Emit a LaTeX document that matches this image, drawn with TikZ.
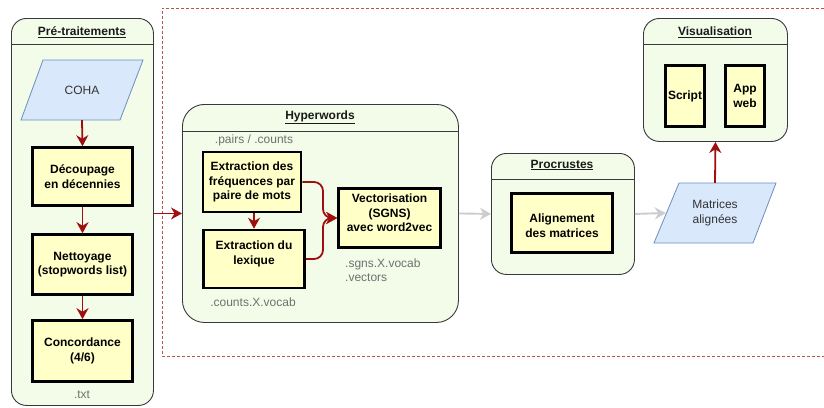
\documentclass[tikz,border=0pt]{standalone}
\usepackage{fontspec}
\setmainfont{Liberation Sans}
\usetikzlibrary{arrows.meta}
\definecolor{lanefill}{HTML}{F3FCE9}
\definecolor{lanedraw}{HTML}{36393D}
\definecolor{procfill}{HTML}{FFFFC8}
\definecolor{iofill}{HTML}{DAE8FC}
\definecolor{iodraw}{HTML}{6C8EBF}
\definecolor{arrred}{HTML}{A00F0F}
\definecolor{arrgray}{HTML}{CCCCCC}
\definecolor{dashc}{HTML}{B85450}
\definecolor{notec}{HTML}{707070}
\definecolor{titlec}{HTML}{1A1A1A}
\definecolor{iotextc}{HTML}{333333}
\begin{document}
\begin{tikzpicture}[x=1pt,y=-1pt,
  lane/.style={draw=lanedraw, fill=lanefill, line width=0.9pt, inner sep=0, anchor=north west},
  hdr/.style={draw=lanedraw, line width=0.9pt},
  proc/.style={draw=black, fill=procfill, line width=2.6pt, inner sep=0, align=center, text=black, font=\bfseries\fontsize{12}{14.5}\selectfont},
  proctext/.style={inner sep=0, align=center, text=black, font=\bfseries\fontsize{12}{14.5}\selectfont},
  io/.style={draw=iodraw, fill=iofill, line width=0.8pt},
  iotext/.style={inner sep=0, align=center, text=iotextc, font=\fontsize{12}{15}\selectfont},
  ttl/.style={inner sep=0, text=titlec, font=\bfseries\fontsize{12}{14}\selectfont},
  note/.style={inner sep=0, text=notec, font=\fontsize{12}{14}\selectfont},
  redarr/.style={draw=arrred, line width=1.8pt, -{Stealth[length=11pt,width=12pt,inset=3.5pt]}},
  grayarr/.style={draw=arrgray, line width=1.9pt, -{Stealth[length=11pt,width=12pt,inset=3.5pt]}},
]
\useasboundingbox (0,0) rectangle (824,407);

% dashed frame
\draw[dashc, line width=0.8pt, dash pattern=on 3pt off 2pt] (824,8) -- (162,8) -- (162,356) -- (824,356);

% ---------- Pre-traitements ----------
\node[lane, rounded corners=15pt, minimum width=142, minimum height=387] (pre) at (11,18) {};
\draw[hdr] (11,44) -- (153,44);
\node[ttl] (pret) at (82,32) {\underline{Pré-traitements}};
\draw[io] (43,60) -- (143,60) -- (120,120) -- (21,120) -- cycle;
\node[iotext, minimum width=100, minimum height=60] (coha) at (82,90) {COHA};
\node[proc, minimum width=100, minimum height=58] (dec) at (82.5,176.5) {Découpage\\en décennies};
\node[proc, minimum width=100, minimum height=60] (net) at (82.5,264.5) {Nettoyage\\(stopwords list)};
\node[proc, minimum width=100, minimum height=61] (conc) at (82.5,351) {Concordance\\(4/6)};
\node[note] (txt) at (82,395) {.txt};
\draw[redarr] (coha.south) -- (dec.north);
\draw[redarr] (dec.south) -- (net.north);
\draw[redarr] (net.south) -- (conc.north);

% ---------- Hyperwords ----------
\node[lane, rounded corners=22pt, minimum width=276, minimum height=218] (hyp) at (182,104) {};
\draw[hdr] (182,131) -- (458,131);
\node[ttl] (hypt) at (320,117) {\underline{Hyperwords}};
\node[note] (pc) at (254,140) {.pairs / .counts};
\node[proc, minimum width=98, minimum height=60] (freq) at (252,182) {Extraction des\\fréquences par\\paire de mots};
\node[proc, minimum width=101, minimum height=58] (lex) at (254,259) {};
\node[proctext] (lext) at (254,254) {Extraction du\\lexique};
\node[proc, minimum width=102, minimum height=59] (vec) at (389.5,218) {};
\node[proctext] (vect) at (389.5,213) {Vectorisation\\(SGNS)\\avec word2vec};
\node[note] (cv) at (253,302) {.counts.X.vocab};
\node[note, anchor=west, align=left] (sv) at (345,270) {.sgns.X.vocab\\.vectors};
\coordinate (mrg) at (323,218);
\draw[redarr] (lex.north |- freq.south) -- (lex.north);
\draw[redarr, rounded corners=9pt] (freq.east) -| (mrg) -- (vec.west);
\draw[redarr, rounded corners=9pt] (lex.east) -| (mrg) -- (vec.west);

% ---------- Procrustes ----------
\node[lane, rounded corners=15pt, minimum width=143, minimum height=121] (pro) at (491,153) {};
\draw[hdr] (491,179) -- (634,179);
\node[ttl] (prot) at (562,165) {\underline{Procrustes}};
\node[proc, minimum width=101, minimum height=59] (ali) at (562,223) {};
\node[proctext] (alit) at (562,225.5) {Alignement\\des matrices};

% ---------- Matrices alignees ----------
\draw[io] (679,183) -- (776,183) -- (753,243) -- (654,243) -- cycle;
\node[iotext, minimum width=98, minimum height=60] (mat) at (715,213) {Matrices\\alignées};

% ---------- Visualisation ----------
\node[lane, rounded corners=16pt, minimum width=144, minimum height=123] (vis) at (643,18) {};
\draw[hdr] (643,44) -- (787,44);
\node[ttl] (vist) at (715,32) {\underline{Visualisation}};
\node[proc, minimum width=39.5, minimum height=61.5] (scr) at (685,96) {Script};
\node[proc, minimum width=39.5, minimum height=61.5] (app) at (745,96) {App\\web};

% ---------- connectors between lanes ----------
\draw[redarr] (pre.east |- hyp.west) -- (hyp.west);
\draw[grayarr] (hyp.east) -- (pro.west);
\draw[grayarr] (pro.east) -- (mat.west);
\draw[redarr] (mat.north) -- (vis.south);
\end{tikzpicture}
\end{document}
